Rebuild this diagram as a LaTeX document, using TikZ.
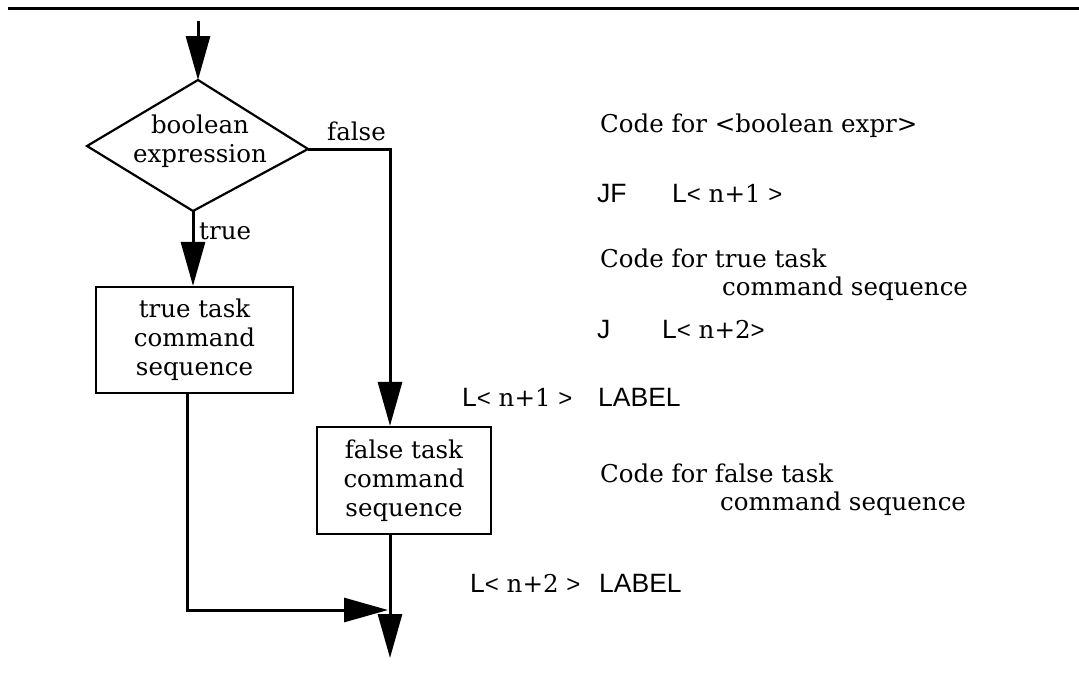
\documentclass[tikz,border=0pt]{standalone}
\usepackage{fontspec}
\setmainfont{DejaVu Serif}
\newfontfamily\ssf{Liberation Sans}
\usetikzlibrary{arrows.meta}
\newcommand\sansL{{\ssf\fontsize{26.5}{29}\selectfont L}}
\newcommand\anglL{{\ssf\fontsize{24}{29}\selectfont <}}
\newcommand\anglR{{\ssf\fontsize{24}{29}\selectfont >}}
\begin{document}
\begin{tikzpicture}[x=1pt,y=-1pt,
  every node/.style={font=\fontsize{24.5}{29}\selectfont, inner sep=0pt},
  sans/.style={font=\fontsize{26.5}{29}\selectfont\ssf},
  ln/.style={line width=3pt},
  arr/.style={-{Triangle[length=44pt,width=24pt]}},
  box/.style={draw, line width=2.2pt, align=center},
  txt/.style={anchor=base west}]
\useasboundingbox (0,0) rectangle (1079,673);
% top rule
\coordinate (tl) at (8,8);
\coordinate (tr) at (1079,8);
\draw[line width=3pt] (tl) -- (tr);
% decision
\coordinate (dt) at (198,80);
\coordinate (dl) at (87,146);
\coordinate (dr) at (308,149);
\coordinate (db) at (193,211);
\draw[line width=2.2pt, line join=miter] (dt) -- (dr) -- (db) -- (dl) -- cycle;
\node[align=center] (dec) at (200,141) {boolean\\expression};
\coordinate (entry) at (198,21);
\draw[ln,arr] (entry) -- (dt);
% boxes
\node[box, minimum width=197pt, minimum height=106pt] (tb) at (194.5,340) {true task\\command\\sequence};
\node[box, minimum width=174pt, minimum height=107pt] (fb) at (404,480.5) {false task\\command\\sequence};
% connectors
\coordinate (fc) at (390,149);
\draw[ln,arr] (dr) -- (fc) -- (fc |- fb.north);
\node[txt] (flab) at (327,140) {false};
\draw[ln,arr] (db) -- (db |- tb.north);
\node[txt] (tlab) at (199,239) {true};
\coordinate (tbo) at (187,393);
\coordinate (jn) at (187,610);
\coordinate (jm) at (388,610);
\draw[ln,arr] (tbo) -- (jn) -- (jm);
\coordinate (fbo) at (390,534);
\coordinate (exit) at (390,658);
\draw[ln,arr] (fbo) -- (exit);
% code listing
\node[txt] (c1) at (600,132) {Code for <boolean expr>};
\node[txt,sans] (jf) at (597,202) {JF};
\node[txt] (jfl) at (672,202) {\sansL\anglL{} n+1 \anglR};
\node[txt] (c2) at (600,267) {Code for true task};
\node[txt] (c2b) at (722,295) {command sequence};
\node[txt,sans] (j) at (597,338) {J};
\node[txt] (jl) at (662,338) {\sansL\anglL{} n+2\anglR};
\node[txt] (l1) at (462,406) {\sansL\anglL{} n+1 \anglR};
\node[txt,sans] (lab1) at (598,406) {LABEL};
\node[txt] (c3) at (600,482) {Code for false task};
\node[txt] (c3b) at (720,510) {command sequence};
\node[txt] (l2) at (470,592) {\sansL\anglL{} n+2 \anglR};
\node[txt,sans] (lab2) at (599,592) {LABEL};
\end{tikzpicture}
\end{document}
